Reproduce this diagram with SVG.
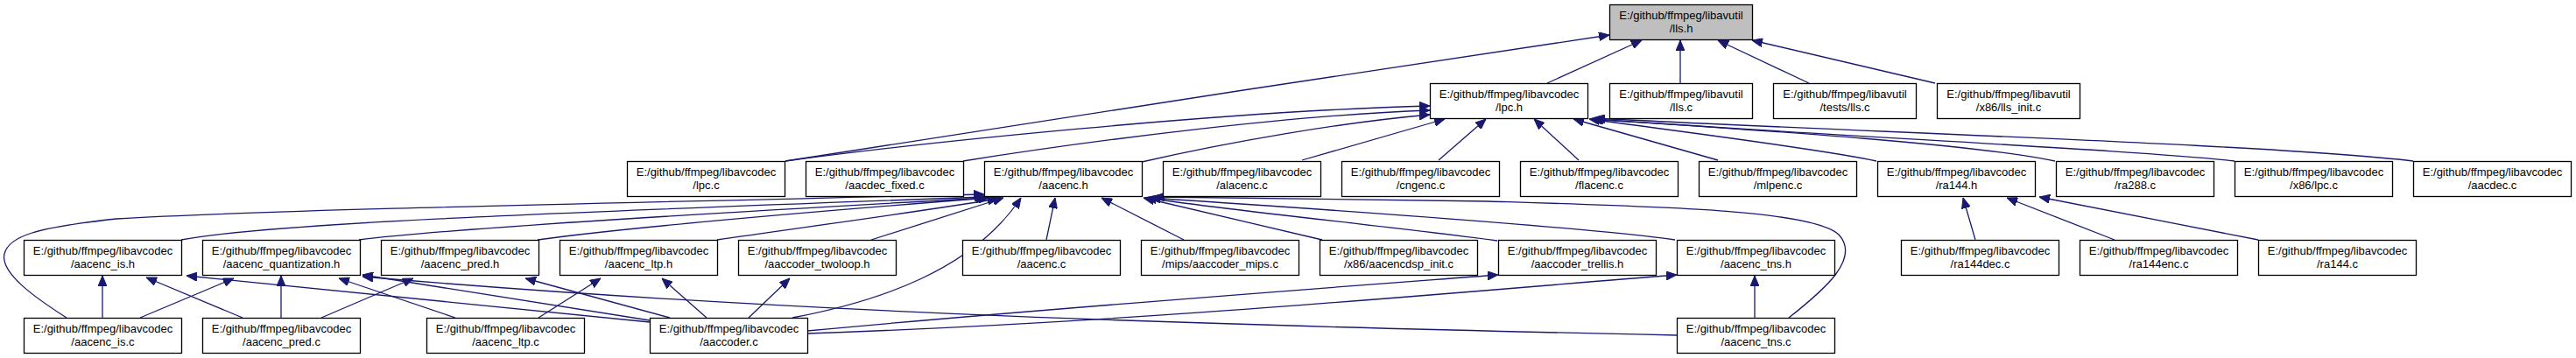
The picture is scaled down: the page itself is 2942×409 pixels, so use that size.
<svg xmlns="http://www.w3.org/2000/svg" width="2942" height="409" viewBox="0 0 2942 409">
<style>
.n rect{fill:#ffffff;stroke:#000000;stroke-width:1.3}
.n.hl rect{fill:#bfbfbf}
.n text{font-family:"Liberation Sans",Arial,Helvetica,sans-serif;font-size:13px;fill:#000000;text-anchor:middle}
.e path{fill:none;stroke:#191970;stroke-width:1.3;marker-end:url(#ah)}
</style>
<defs>
<marker id="ah" markerWidth="12" markerHeight="10" refX="12" refY="5" orient="auto" markerUnits="userSpaceOnUse">
<path d="M0,0 L12,5 L0,10 z" fill="#191970" stroke="#191970" stroke-width="1"/>
</marker>
</defs>
<rect width="2942" height="409" fill="#ffffff"/>
<g id="edges" class="e">
<path d="M897,184 C1150,145 1550,82 1838,40"/>
<path d="M1767,95 L1875,46"/>
<path d="M1919,95 L1919,46"/>
<path d="M2066,95 L1962,46"/>
<path d="M2210,95 L2001,46"/>
<path d="M897,184 C1050,163 1400,127 1633,121"/>
<path d="M1100,184 C1250,160 1480,131 1633,126"/>
<path d="M1304,185 C1400,163 1530,140 1633,131"/>
<path d="M1487,183 L1650,136"/>
<path d="M1643,183 L1697,136"/>
<path d="M1803,183 L1752,136"/>
<path d="M1962,183 L1797,136"/>
<path d="M2143,184 C2080,170 1900,148 1815,136"/>
<path d="M2347,184 C2250,163 1950,145 1817,136"/>
<path d="M2552,184 C2450,172 2100,156 1819,136"/>
<path d="M2756,184 C2600,165 2100,150 1821,135"/>
<path d="M76,363 C40,340 0,312 5,290 C10,270 40,260 133,250 C300,240 700,232 1124,222"/>
<path d="M207,274 C300,256 600,244 1125,225"/>
<path d="M410,274 C500,262 800,244 1127,226"/>
<path d="M614,274 C700,262 900,244 1130,226"/>
<path d="M819,274 C900,262 1050,242 1140,227"/>
<path d="M995,274 L1146,226"/>
<path d="M1195,274 L1205,226"/>
<path d="M1352,274 L1258,226"/>
<path d="M1510,274 L1306,226"/>
<path d="M1710,275 C1600,260 1400,240 1309,226"/>
<path d="M1913,274 C1800,258 1450,235 1313,226"/>
<path d="M2043,363 C2085,330 2125,295 2100,268 C2070,240 1900,236 1700,230 C1550,227 1400,225 1318,225"/>
<path d="M905,363 C1000,345 1110,310 1166,226"/>
<path d="M742,368 L213,315"/>
<path d="M742,366 L414,314"/>
<path d="M1915,383 C1400,372 900,358 414,316"/>
<path d="M765,363 L600,318"/>
<path d="M367,363 L472,318"/>
<path d="M615,363 L686,318"/>
<path d="M807,363 L756,318"/>
<path d="M855,363 L902,318"/>
<path d="M922,378 C1200,352 1500,330 1711,314"/>
<path d="M922,381 C1300,368 1650,335 1915,314"/>
<path d="M117,363 L117,315"/>
<path d="M277,363 L167,317"/>
<path d="M160,363 L267,318"/>
<path d="M321,363 L321,315"/>
<path d="M520,363 L387,318"/>
<path d="M2004,363 L2004,315"/>
<path d="M2256,274 L2242,226"/>
<path d="M2415,274 L2292,226"/>
<path d="M2579,274 L2329,225"/>
</g>
<g id="n_lls_h" class="n hl"><rect x="1838.5" y="5.5" width="163" height="40"/><text x="1920" y="22">E:/github/ffmpeg/libavutil</text><text x="1920" y="36.5">/lls.h</text></g>
<g id="n_lpc_h" class="n"><rect x="1633.5" y="95.5" width="180" height="40"/><text x="1723.5" y="112">E:/github/ffmpeg/libavcodec</text><text x="1723.5" y="126.5">/lpc.h</text></g>
<g id="n_lls_c" class="n"><rect x="1838.5" y="95.5" width="163" height="40"/><text x="1920" y="112">E:/github/ffmpeg/libavutil</text><text x="1920" y="126.5">/lls.c</text></g>
<g id="n_tests_lls_c" class="n"><rect x="2025.5" y="95.5" width="163" height="40"/><text x="2107" y="112">E:/github/ffmpeg/libavutil</text><text x="2107" y="126.5">/tests/lls.c</text></g>
<g id="n_x86_lls_init_c" class="n"><rect x="2212.5" y="95.5" width="163" height="40"/><text x="2294" y="112">E:/github/ffmpeg/libavutil</text><text x="2294" y="126.5">/x86/lls_init.c</text></g>
<g id="n_lpc_c" class="n"><rect x="716.5" y="184.5" width="180" height="40"/><text x="806.5" y="201">E:/github/ffmpeg/libavcodec</text><text x="806.5" y="215.5">/lpc.c</text></g>
<g id="n_aacdec_fixed_c" class="n"><rect x="920.5" y="184.5" width="180" height="40"/><text x="1010.5" y="201">E:/github/ffmpeg/libavcodec</text><text x="1010.5" y="215.5">/aacdec_fixed.c</text></g>
<g id="n_aacenc_h" class="n"><rect x="1124.5" y="184.5" width="180" height="40"/><text x="1214.5" y="201">E:/github/ffmpeg/libavcodec</text><text x="1214.5" y="215.5">/aacenc.h</text></g>
<g id="n_alacenc_c" class="n"><rect x="1328.5" y="184.5" width="180" height="40"/><text x="1418.5" y="201">E:/github/ffmpeg/libavcodec</text><text x="1418.5" y="215.5">/alacenc.c</text></g>
<g id="n_cngenc_c" class="n"><rect x="1532.5" y="184.5" width="180" height="40"/><text x="1622.5" y="201">E:/github/ffmpeg/libavcodec</text><text x="1622.5" y="215.5">/cngenc.c</text></g>
<g id="n_flacenc_c" class="n"><rect x="1736.5" y="184.5" width="180" height="40"/><text x="1826.5" y="201">E:/github/ffmpeg/libavcodec</text><text x="1826.5" y="215.5">/flacenc.c</text></g>
<g id="n_mlpenc_c" class="n"><rect x="1940.5" y="184.5" width="180" height="40"/><text x="2030.5" y="201">E:/github/ffmpeg/libavcodec</text><text x="2030.5" y="215.5">/mlpenc.c</text></g>
<g id="n_ra144_h" class="n"><rect x="2144.5" y="184.5" width="180" height="40"/><text x="2234.5" y="201">E:/github/ffmpeg/libavcodec</text><text x="2234.5" y="215.5">/ra144.h</text></g>
<g id="n_ra288_c" class="n"><rect x="2348.5" y="184.5" width="180" height="40"/><text x="2438.5" y="201">E:/github/ffmpeg/libavcodec</text><text x="2438.5" y="215.5">/ra288.c</text></g>
<g id="n_x86_lpc_c" class="n"><rect x="2552.5" y="184.5" width="180" height="40"/><text x="2642.5" y="201">E:/github/ffmpeg/libavcodec</text><text x="2642.5" y="215.5">/x86/lpc.c</text></g>
<g id="n_aacdec_c" class="n"><rect x="2756.5" y="184.5" width="180" height="40"/><text x="2846.5" y="201">E:/github/ffmpeg/libavcodec</text><text x="2846.5" y="215.5">/aacdec.c</text></g>
<g id="n_aacenc_is_h" class="n"><rect x="27.5" y="274.5" width="180" height="40"/><text x="117.5" y="291">E:/github/ffmpeg/libavcodec</text><text x="117.5" y="305.5">/aacenc_is.h</text></g>
<g id="n_aacenc_quantization_h" class="n"><rect x="231.5" y="274.5" width="180" height="40"/><text x="321.5" y="291">E:/github/ffmpeg/libavcodec</text><text x="321.5" y="305.5">/aacenc_quantization.h</text></g>
<g id="n_aacenc_pred_h" class="n"><rect x="435.5" y="274.5" width="180" height="40"/><text x="525.5" y="291">E:/github/ffmpeg/libavcodec</text><text x="525.5" y="305.5">/aacenc_pred.h</text></g>
<g id="n_aacenc_ltp_h" class="n"><rect x="639.5" y="274.5" width="180" height="40"/><text x="729.5" y="291">E:/github/ffmpeg/libavcodec</text><text x="729.5" y="305.5">/aacenc_ltp.h</text></g>
<g id="n_aaccoder_twoloop_h" class="n"><rect x="843.5" y="274.5" width="180" height="40"/><text x="933.5" y="291">E:/github/ffmpeg/libavcodec</text><text x="933.5" y="305.5">/aaccoder_twoloop.h</text></g>
<g id="n_aacenc_c" class="n"><rect x="1099.5" y="274.5" width="180" height="40"/><text x="1189.5" y="291">E:/github/ffmpeg/libavcodec</text><text x="1189.5" y="305.5">/aacenc.c</text></g>
<g id="n_mips_aaccoder_mips_c" class="n"><rect x="1303.5" y="274.5" width="180" height="40"/><text x="1393.5" y="291">E:/github/ffmpeg/libavcodec</text><text x="1393.5" y="305.5">/mips/aaccoder_mips.c</text></g>
<g id="n_x86_aacencdsp_init_c" class="n"><rect x="1507.5" y="274.5" width="180" height="40"/><text x="1597.5" y="291">E:/github/ffmpeg/libavcodec</text><text x="1597.5" y="305.5">/x86/aacencdsp_init.c</text></g>
<g id="n_aaccoder_trellis_h" class="n"><rect x="1711.5" y="274.5" width="180" height="40"/><text x="1801.5" y="291">E:/github/ffmpeg/libavcodec</text><text x="1801.5" y="305.5">/aaccoder_trellis.h</text></g>
<g id="n_aacenc_tns_h" class="n"><rect x="1915.5" y="274.5" width="180" height="40"/><text x="2005.5" y="291">E:/github/ffmpeg/libavcodec</text><text x="2005.5" y="305.5">/aacenc_tns.h</text></g>
<g id="n_ra144dec_c" class="n"><rect x="2171.5" y="274.5" width="180" height="40"/><text x="2261.5" y="291">E:/github/ffmpeg/libavcodec</text><text x="2261.5" y="305.5">/ra144dec.c</text></g>
<g id="n_ra144enc_c" class="n"><rect x="2375.5" y="274.5" width="180" height="40"/><text x="2465.5" y="291">E:/github/ffmpeg/libavcodec</text><text x="2465.5" y="305.5">/ra144enc.c</text></g>
<g id="n_ra144_c" class="n"><rect x="2579.5" y="274.5" width="180" height="40"/><text x="2669.5" y="291">E:/github/ffmpeg/libavcodec</text><text x="2669.5" y="305.5">/ra144.c</text></g>
<g id="n_aacenc_is_c" class="n"><rect x="27.5" y="363.5" width="180" height="40"/><text x="117.5" y="380">E:/github/ffmpeg/libavcodec</text><text x="117.5" y="394.5">/aacenc_is.c</text></g>
<g id="n_aacenc_pred_c" class="n"><rect x="231.5" y="363.5" width="180" height="40"/><text x="321.5" y="380">E:/github/ffmpeg/libavcodec</text><text x="321.5" y="394.5">/aacenc_pred.c</text></g>
<g id="n_aacenc_ltp_c" class="n"><rect x="487.5" y="363.5" width="180" height="40"/><text x="577.5" y="380">E:/github/ffmpeg/libavcodec</text><text x="577.5" y="394.5">/aacenc_ltp.c</text></g>
<g id="n_aaccoder_c" class="n"><rect x="742.5" y="363.5" width="180" height="40"/><text x="832.5" y="380">E:/github/ffmpeg/libavcodec</text><text x="832.5" y="394.5">/aaccoder.c</text></g>
<g id="n_aacenc_tns_c" class="n"><rect x="1915.5" y="363.5" width="180" height="40"/><text x="2005.5" y="380">E:/github/ffmpeg/libavcodec</text><text x="2005.5" y="394.5">/aacenc_tns.c</text></g>
</svg>
